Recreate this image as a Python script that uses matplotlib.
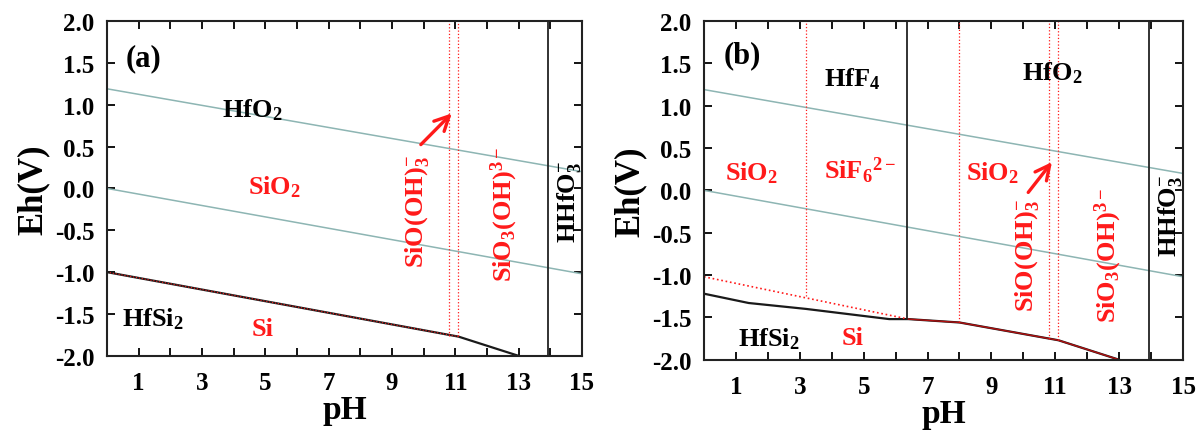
import matplotlib
matplotlib.use("Agg")
import matplotlib.pyplot as plt

plt.rcParams['font.family'] = ['Liberation Serif', 'DejaVu Serif']
plt.rcParams['font.weight'] = 'bold'
plt.rcParams['mathtext.fontset'] = 'custom'
plt.rcParams['mathtext.rm'] = 'Liberation Serif:bold'
plt.rcParams['mathtext.it'] = 'Liberation Serif:bold'
plt.rcParams['mathtext.bf'] = 'Liberation Serif:bold'
plt.rcParams['axes.unicode_minus'] = False

# water stability lines (same in both panels)
water_ph = [0, 15]
water_upper = [1.19, 0.20]
water_lower = [0.0, -1.02]

# panel (a) boundaries
a_hfsi_ph = [0, 11.1, 13.0]
a_hfsi_eh = [-1.0, -1.77, -2.0]
a_si_vlines = [10.8, 11.1]
a_si_vline_bottom = -1.76
hhfo3_ph = 13.94

# panel (b) boundaries
b_hfsi_ph = [0, 1.4, 3.2, 5.8, 6.4, 8.0, 11.1, 13.0]
b_hfsi_eh = [-1.22, -1.33, -1.40, -1.52, -1.52, -1.56, -1.77, -2.0]
b_si_ph = [0, 6.4]
b_si_eh = [-1.02, -1.52]
b_si_ph2 = [6.4, 8.0, 11.1, 13.0]
b_si_eh2 = [-1.52, -1.56, -1.77, -2.0]
b_red_vlines = [3.2, 8.0, 10.8, 11.1]
b_red_vline_bottoms = [-1.25, -1.56, -1.75, -1.77]
b_hff4_ph = 6.37
b_hff4_bottom = -1.52

xticks = list(range(1, 16))
xticklabels = [str(v) if v % 2 == 1 else '' for v in xticks]
yticks = [-2.0, -1.5, -1.0, -0.5, 0.0, 0.5, 1.0, 1.5, 2.0]

water_color = '#8db5b3'
red = '#ff1a1a'

fig = plt.figure(figsize=(11.98, 4.31), dpi=100)
ax_a = fig.add_axes([0.0893, 0.172, 0.3965, 0.777])
ax_b = fig.add_axes([0.5876, 0.163, 0.3999, 0.786])


def setup(ax):
    ax.set_xlim(0, 15)
    ax.set_ylim(-2, 2)
    ax.set_xticks(xticks)
    ax.set_xticklabels(xticklabels)
    ax.set_yticks(yticks)
    ax.set_yticklabels(['%.1f' % v for v in yticks])
    ax.tick_params(direction='in', length=6, width=1.3, top=True, right=True,
                   labelsize=18)
    ax.tick_params(axis='x', pad=11)
    ax.tick_params(axis='y', pad=9)
    for s in ax.spines.values():
        s.set_linewidth(1.5)
        s.set_color('#222222')
    ax.set_xlabel('pH', fontsize=24, fontweight='bold', labelpad=0)
    ax.set_ylabel('Eh(V)', fontsize=25, fontweight='bold', labelpad=4)
    ax.plot(water_ph, water_upper, color=water_color, lw=1.1)
    ax.plot(water_ph, water_lower, color=water_color, lw=1.1)
    ax.axvline(hhfo3_ph, color='#222222', lw=1.3)


setup(ax_a)
setup(ax_b)

# ---- panel (a)
ax_a.plot(a_hfsi_ph, a_hfsi_eh, color='#1a1a1a', lw=1.6)
ax_a.plot(a_hfsi_ph[:2], a_hfsi_eh[:2], color=red, lw=0.8, ls=':')
for xv in a_si_vlines:
    ax_a.plot([xv, xv], [a_si_vline_bottom, 2], color=red, lw=0.9, ls=':')

tk = dict(fontsize=19, fontweight='bold', ha='center', va='center')
ax_a.text(1.15, 1.56, '(a)', fontsize=22, fontweight='bold', ha='center', va='center')
ax_a.text(4.6, 0.95, r'HfO$_\mathrm{2}$', color='black', **tk)
ax_a.text(5.3, 0.03, r'SiO$_\mathrm{2}$', color=red, **tk)
ax_a.text(1.45, -1.55, r'HfSi$_\mathrm{2}$', color='black', **tk)
ax_a.text(4.9, -1.67, 'Si', color=red, **tk)
ax_a.text(9.8, -0.27, r'SiO(OH)$_\mathrm{3}^{\mathrm{-}}$', color=red, rotation=90, **tk)
ax_a.text(12.55, -0.3, r'SiO$_\mathrm{3}$(OH)$^{\mathrm{3-}}$', color=red, rotation=90, **tk)
ax_a.text(14.6, -0.15, r'HHfO$_\mathrm{3}^{\mathrm{-}}$', color='black', rotation=90, **tk)
ax_a.annotate('', xy=(10.95, 0.92), xytext=(9.85, 0.5),
              arrowprops=dict(arrowstyle='->', color=red, lw=2.4, mutation_scale=26))

# ---- panel (b)
ax_b.plot(b_hfsi_ph, b_hfsi_eh, color='#1a1a1a', lw=1.6)
ax_b.plot(b_si_ph, b_si_eh, color=red, lw=1.2, ls=':')
ax_b.plot(b_si_ph2, b_si_eh2, color='#b01010', lw=1.0)
for xv, yb in zip(b_red_vlines, b_red_vline_bottoms):
    ax_b.plot([xv, xv], [yb, 2], color=red, lw=0.9, ls=':')
ax_b.plot([b_hff4_ph, b_hff4_ph], [b_hff4_bottom, 2], color='#222222', lw=1.3)

ax_b.text(1.2, 1.6, '(b)', fontsize=22, fontweight='bold', ha='center', va='center')
ax_b.text(4.65, 1.32, r'HfF$_\mathrm{4}$', color='black', **tk)
ax_b.text(10.9, 1.4, r'HfO$_\mathrm{2}$', color='black', **tk)
ax_b.text(1.5, 0.22, r'SiO$_\mathrm{2}$', color=red, **tk)
ax_b.text(4.9, 0.24, r'SiF$_\mathrm{6}$$^\mathrm{2-}$', color=red, **tk)
ax_b.text(9.05, 0.22, r'SiO$_\mathrm{2}$', color=red, **tk)
ax_b.text(10.1, -0.76, r'SiO(OH)$_\mathrm{3}^{\mathrm{-}}$', color=red, rotation=90, **tk)
ax_b.text(12.65, -0.76, r'SiO$_\mathrm{3}$(OH)$^{\mathrm{3-}}$', color=red, rotation=90, **tk)
ax_b.text(14.6, -0.29, r'HHfO$_\mathrm{3}^{\mathrm{-}}$', color='black', rotation=90, **tk)
ax_b.text(2.05, -1.74, r'HfSi$_\mathrm{2}$', color='black', **tk)
ax_b.text(4.65, -1.74, 'Si', color=red, **tk)
ax_b.annotate('', xy=(10.95, 0.36), xytext=(10.1, -0.05),
              arrowprops=dict(arrowstyle='->', color=red, lw=2.4, mutation_scale=26))

fig.savefig('out.png', dpi=100)
